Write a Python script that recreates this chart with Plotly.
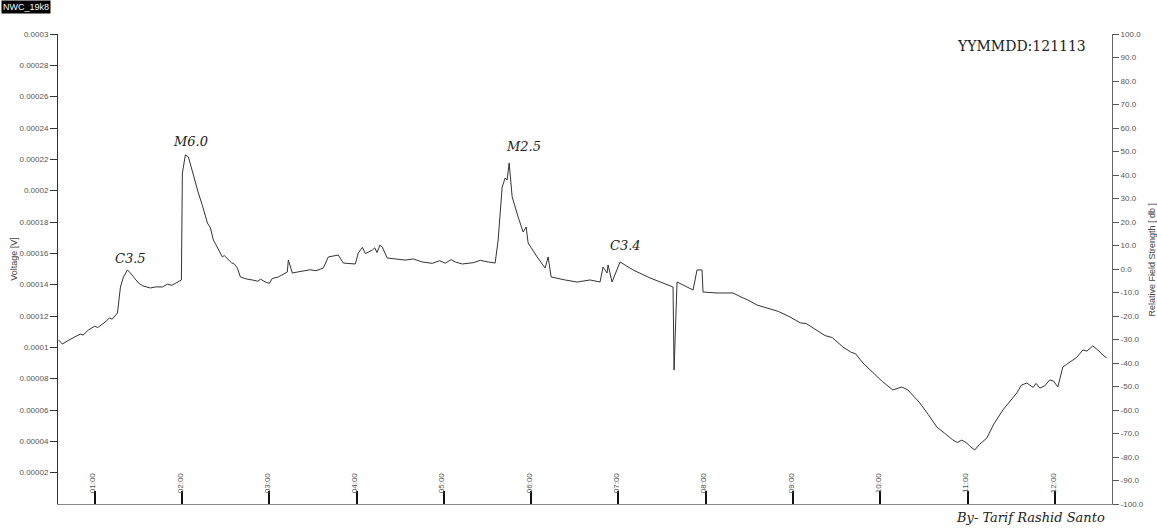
import plotly.graph_objects as go

DATE = "2012-11-13 "

# time of day (UT) of each sample of the VLF amplitude trace
times = [
    "00:35:04", "00:37:48", "00:46:44", "00:55:40", "01:07:21", "01:14:13", "01:15:36",
    "01:17:39", "01:19:43", "01:22:28", "01:24:31", "01:30:00", "01:38:16", "01:46:30",
    "01:57:30", "01:59:33", "02:00:14", "02:02:18", "02:04:22", "02:07:07", "02:11:14",
    "02:17:25", "02:21:32", "02:25:00", "02:27:45", "02:31:52", "02:38:03", "02:40:06",
    "02:48:20", "02:57:16", "03:06:11", "03:12:22", "03:13:04", "03:15:49", "03:24:45",
    "03:37:06", "03:40:32", "03:47:24", "03:50:50", "03:59:05", "04:01:09", "04:10:46",
    "04:17:37", "04:21:03", "04:33:25", "04:45:05", "05:07:45", "05:12:33", "05:30:25",
    "05:35:13", "05:37:17", "05:40:02", "05:42:06", "05:43:28", "05:44:51", "05:46:55",
    "05:51:02", "05:54:28", "05:56:32", "05:57:54", "06:04:05", "06:09:35", "06:11:39",
    "06:13:42", "06:23:19", "06:31:33", "06:40:28", "06:47:20", "06:49:24", "06:52:09",
    "06:52:50", "06:55:35", "07:01:05", "07:10:00", "07:21:41", "07:37:30", "07:38:12",
    "07:40:16", "07:51:16", "07:54:00", "07:57:26", "07:58:07", "08:07:43", "08:18:43",
    "08:35:11", "08:57:53", "09:16:25", "09:34:17", "09:48:00", "10:01:44", "10:08:35",
    "10:14:46", "10:18:54", "10:27:11", "10:38:50", "10:49:49", "10:59:26", "11:04:56",
    "11:13:12", "11:24:12", "11:33:49", "11:40:41", "11:49:37", "11:56:29", "12:02:00",
    "12:05:25", "12:12:17", "12:19:09", "12:26:00", "12:29:30", "12:35:36",
]

# received signal voltage [V]
voltage = [
    0.0001047, 0.0001021, 0.0001066, 0.0001111, 0.0001162, 0.0001206, 0.0001219,
    0.0001385, 0.0001449, 0.0001494, 0.0001474, 0.0001411, 0.0001379, 0.0001385,
    0.0001417, 0.0001430, 0.0002113, 0.0002228, 0.0002215, 0.0002119, 0.0001985,
    0.0001794, 0.0001685, 0.0001621, 0.0001577, 0.0001557, 0.0001506, 0.0001449,
    0.0001430, 0.0001417, 0.0001449, 0.0001481, 0.0001557, 0.0001474, 0.0001487,
    0.0001506, 0.0001577, 0.0001589, 0.0001538, 0.0001532, 0.0001602, 0.0001621,
    0.0001640, 0.0001570, 0.0001557, 0.0001545, 0.0001545, 0.0001532, 0.0001545,
    0.0001538, 0.0001685, 0.0002023, 0.0002081, 0.0002068, 0.0002177, 0.0001960,
    0.0001832, 0.0001736, 0.0001768, 0.0001666, 0.0001577, 0.0001506, 0.0001577,
    0.0001449, 0.0001430, 0.0001417, 0.0001430, 0.0001417, 0.0001513, 0.0001474,
    0.0001526, 0.0001417, 0.0001545, 0.0001494, 0.0001443, 0.0001385, 0.0000855,
    0.0001417, 0.0001366, 0.0001494, 0.0001494, 0.0001353, 0.0001347, 0.0001347,
    0.0001270, 0.0001194, 0.0001111, 0.0001002, 0.0000900, 0.0000779, 0.0000728,
    0.0000747, 0.0000728, 0.0000645, 0.0000491, 0.0000409, 0.0000389, 0.0000345,
    0.0000421, 0.0000600, 0.0000709, 0.0000772, 0.0000740, 0.0000792, 0.0000747,
    0.0000874, 0.0000919, 0.0000983, 0.0001009, 0.0000983, 0.0000932,
]

detail_times = [
    "00:41:00", "00:50:00", "00:52:00", "01:00:00", "01:02:00", "01:10:00", "01:12:00",
    "01:33:00", "01:42:00", "01:50:00", "01:53:00",
    "02:14:00", "02:19:30", "02:23:00", "02:29:00", "02:34:00", "02:36:00",
    "02:44:00", "02:52:00", "02:54:00", "03:00:00", "03:02:00", "03:09:00",
    "03:20:00", "03:28:00", "03:32:00",
    "04:04:00", "04:06:00", "04:12:30", "04:14:00", "04:16:00",
    "04:39:00", "04:52:00", "04:57:00", "05:01:00", "05:05:00", "05:20:00", "05:25:00",
    "08:25:00", "08:29:00", "08:45:00", "08:50:00", "09:05:00", "09:09:00", "09:22:00",
    "09:27:00", "09:40:00", "09:43:00", "09:55:00", "10:33:00", "10:44:00", "10:53:00",
    "10:56:00", "11:02:00", "11:08:00", "11:18:00", "11:29:00", "11:37:00", "11:45:00",
    "11:47:00", "11:53:00", "11:59:00", "12:08:00", "12:15:00", "12:22:00", "12:33:00",
]
detail_voltage = [
    0.0001040, 0.0001085, 0.0001078, 0.0001135, 0.0001126, 0.0001188, 0.0001180,
    0.0001392, 0.0001386, 0.0001403, 0.0001396,
    0.0001905, 0.0001762, 0.0001660, 0.0001586, 0.0001540, 0.0001531,
    0.0001437, 0.0001422, 0.0001435, 0.0001408, 0.0001439, 0.0001465,
    0.0001482, 0.0001495, 0.0001489,
    0.0001638, 0.0001598, 0.0001635, 0.0001605, 0.0001652,
    0.0001564, 0.0001536, 0.0001553, 0.0001537, 0.0001560, 0.0001540, 0.0001555,
    0.0001318, 0.0001302, 0.0001246, 0.0001229, 0.0001156, 0.0001152, 0.0001075,
    0.0001062, 0.0000968, 0.0000959, 0.0000840, 0.0000570, 0.0000453, 0.0000392,
    0.0000408, 0.0000365, 0.0000379, 0.0000510, 0.0000655, 0.0000759, 0.0000744,
    0.0000770, 0.0000754, 0.0000785, 0.0000891, 0.0000936, 0.0000976, 0.0000950,
]

# left axis ticks
v_tickvals = [0.00002, 0.00004, 0.00006, 0.00008, 0.0001, 0.00012, 0.00014, 0.00016,
              0.00018, 0.0002, 0.00022, 0.00024, 0.00026, 0.00028, 0.0003]
v_ticktext = ["0.00002", "0.00004", "0.00006", "0.00008", "0.0001", "0.00012", "0.00014",
              "0.00016", "0.00018", "0.0002", "0.00022", "0.00024", "0.00026", "0.00028",
              "0.0003"]
# right axis ticks (relative field strength, dB)
db_tickvals = list(range(-100, 101, 10))
db_ticktext = [f"{v:.1f}" for v in db_tickvals]

# flare labels
flare_labels = ["C3.5", "M6.0", "M2.5", "C3.4"]
flare_times = ["01:24:30", "02:05:43", "05:54:30", "07:04:30"]
flare_levels = [0.0001570, 0.0002317, 0.0002285, 0.0001647]

x_start, x_end = "00:34:44", "12:39:14"

samples = sorted(zip(times + detail_times, voltage + detail_voltage))
xs = [DATE + t for t, _ in samples]
ys = [v for _, v in samples]

tick_font = dict(family="Liberation Sans, Arial, sans-serif", size=8, color="#555555")
serif_it = "DejaVu Serif, Liberation Serif, serif"

fig = go.Figure()
fig.add_trace(go.Scatter(
    x=xs, y=ys, mode="lines",
    line=dict(color="#333333", width=1), showlegend=False, hoverinfo="x+y",
))

fig.update_layout(
    width=1157, height=532,
    margin=dict(l=58, r=45, t=34, b=28, pad=0),
    paper_bgcolor="white", plot_bgcolor="white",
    showlegend=False,
    xaxis=dict(
        type="date", range=[DATE + x_start, DATE + x_end],
        tickformat="%H:%M", dtick=3600000, tick0=DATE + "00:00:00",
        ticks="inside", ticklen=13, tickwidth=2, tickcolor="#111111",
        ticklabelposition="outside", ticklabelstandoff=-35, ticklabelshift=-2,
        tickangle=-90, tickfont=tick_font,
        showline=True, linecolor="#888888", linewidth=1,
        showgrid=False, zeroline=False, automargin=False,
    ),
    yaxis=dict(
        range=[0, 0.0003], tickvals=v_tickvals, ticktext=v_ticktext,
        ticks="outside", ticklen=7, tickwidth=1, tickcolor="#333333",
        tickfont=tick_font, showline=True, linecolor="#333333", linewidth=1,
        showgrid=False, zeroline=False, automargin=False,
    ),
    yaxis2=dict(
        range=[-100, 100], tickvals=db_tickvals, ticktext=db_ticktext,
        overlaying="y", side="right", anchor="x",
        ticks="outside", ticklen=6, tickwidth=1, tickcolor="#555555",
        tickfont=tick_font, showline=True, linecolor="#666666", linewidth=1,
        showgrid=False, zeroline=False, automargin=False,
    ),
)

# invisible trace to anchor right axis
fig.add_trace(go.Scatter(x=[DATE + x_start], y=[0], yaxis="y2", mode="markers",
                         marker=dict(opacity=0), showlegend=False, hoverinfo="skip"))

for lab, t, v in zip(flare_labels, flare_times, flare_levels):
    fig.add_annotation(x=DATE + t, y=v, xref="x", yref="y", text=lab, showarrow=False,
                       font=dict(family=serif_it, size=13, color="#222222", style="italic"))

fig.add_annotation(xref="paper", yref="paper", x=-0.0545, y=1.0723, xanchor="left", yanchor="top",
                   text="NWC_19k8", showarrow=False, bgcolor="black", borderpad=1,
                   font=dict(family="Liberation Sans, Arial, sans-serif", size=9, color="white"))
fig.add_annotation(xref="paper", yref="paper", x=0.914, y=0.9745, xanchor="center", yanchor="middle",
                   text="YYMMDD:121113", showarrow=False,
                   font=dict(family=serif_it, size=14, color="#222222"))
fig.add_annotation(xref="paper", yref="paper", x=0.9955, y=-0.0277, xanchor="right", yanchor="middle",
                   text="By- Tarif Rashid Santo", showarrow=False,
                   font=dict(family=serif_it, size=13, color="#222222", style="italic"))
fig.add_annotation(xref="paper", yref="paper", x=-0.0412, y=0.521, xanchor="center", yanchor="middle",
                   text="Voltage [V]", textangle=-90, showarrow=False,
                   font=dict(family="Liberation Sans Narrow, Liberation Sans, Arial, sans-serif", size=9, color="#444444"))
fig.add_annotation(xref="paper", yref="paper", x=1.0379, y=0.52, xanchor="center", yanchor="middle",
                   text="Relative Field Strength [ db ]", textangle=-90, showarrow=False,
                   font=dict(family="Liberation Sans Narrow, Liberation Sans, Arial, sans-serif", size=9, color="#444444"))

fig.write_html("out.html", config={"displayModeBar": False},
               post_script="document.body.style.margin='0';")
